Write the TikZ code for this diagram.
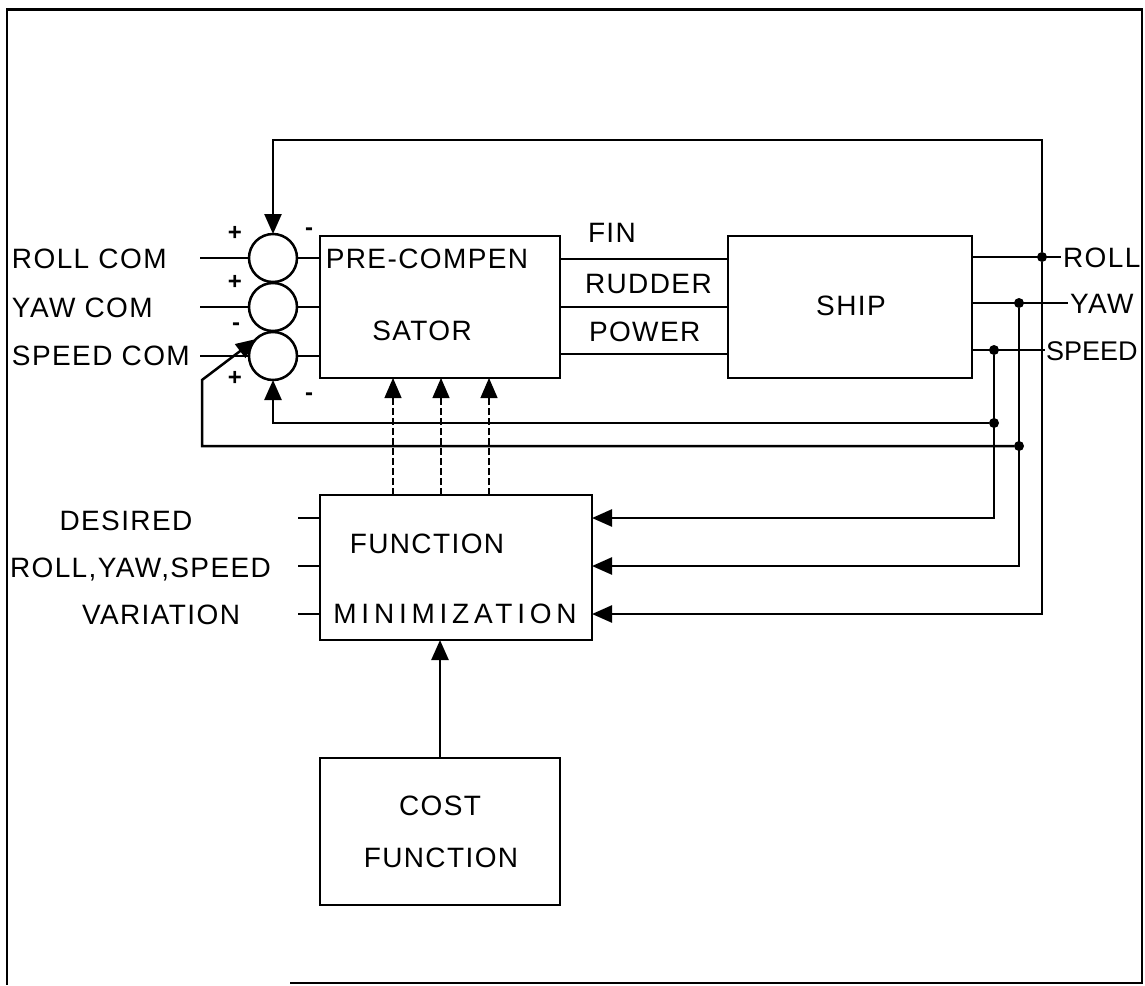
\documentclass[tikz,border=0pt]{standalone}
\usepackage{fontspec}
\setmainfont{Liberation Sans}[LetterSpace=5]
\usetikzlibrary{arrows.meta,calc}
\begin{document}
\begin{tikzpicture}[x=1pt,y=-1pt,
  every node/.style={inner sep=0pt, outer sep=0pt},
  txt/.style={font=\fontsize{28}{34}\selectfont, text height=20pt, text depth=0pt},
  blk/.style={draw, line width=2.5pt},
  sumj/.style={draw, circle, line width=2.5pt, minimum size=48pt},
  wire/.style={line width=2.5pt},
  arr/.style={wire, -{Triangle[length=20pt,width=17pt]}},
  darr/.style={line width=1.2pt, dash pattern=on 7pt off 3pt, -{Triangle[length=20pt,width=17pt]}},
  dot/.style={circle, fill, minimum size=10pt},
  sgn/.style={font=\fontsize{24}{24}\selectfont\bfseries}
]
\useasboundingbox (0,0) rectangle (1145,985);
% frame
\draw[line width=2pt] (290,983) -- (1142,983) -- (1142,9) -- (7,9) -- (7,985);
\draw[line width=3pt] (7,9) -- (1142,9);

% blocks
\node[blk, minimum width=240pt, minimum height=142pt] (pc) at (440,307) {};
\node[blk, minimum width=244pt, minimum height=142pt] (ship) at (850,307) {};
\node[blk, minimum width=272pt, minimum height=145pt] (fm) at (456,567.5) {};
\node[blk, minimum width=240pt, minimum height=147pt] (cf) at (440,831.5) {};

% block texts
\node[txt] (tpc1) at (427,258) {PRE-COMPEN};
\node[txt] (tpc2) at (422,330) {SATOR};
\node[txt] (tship) at (851,305) {SHIP};
\node[txt] (tfm1) at (427,543) {FUNCTION};
\node[txt, font=\fontsize{28}{34}\selectfont\addfontfeature{LetterSpace=17}] (tfm2) at (455,613) {MINIMIZATION};
\node[txt] (tcf1) at (440,805) {COST};
\node[txt] (tcf2) at (441,857) {FUNCTION};

% summing junctions
\node[sumj] (s1) at (273,258) {};
\node[sumj] (s2) at (273,307) {};
\node[sumj] (s3) at (273,356) {};

% signs
\node[sgn] (p1) at (235,233) {+};
\node[sgn] (m1) at (309,232) {-};
\node[sgn] (p2) at (235,282) {+};
\node[sgn] (m3) at (236,327) {-};
\node[sgn] (p3) at (235,378) {+};
\node[sgn] (m4) at (309,397) {-};

% command inputs
\node[txt, anchor=west] (trc) at (12,258) {ROLL COM};
\node[txt, anchor=west] (tyc) at (12,307) {YAW COM};
\node[txt, anchor=west] (tsc) at (12,355) {SPEED COM};
\coordinate (rc) at (200,258);
\coordinate (yc) at (200,307);
\coordinate (sc) at (200,356);
\draw[wire] (rc) -- (s1.west);
\draw[wire] (yc) -- (s2.west);
\draw[wire] (sc) -- (s3.west);

% junctions to pre-compensator
\draw[wire] (s1.east) -- (pc.west |- s1.east);
\draw[wire] (s2.east) -- (pc.west |- s2.east);
\draw[wire] (s3.east) -- (pc.west |- s3.east);

% pre-compensator to ship
\draw[wire] (pc.east |- 0,259) -- (ship.west |- 0,259);
\draw[wire] (pc.east |- s2) -- (ship.west |- s2);
\draw[wire] (pc.east |- 0,354) -- (ship.west |- 0,354);
\node[txt, anchor=west] (tfin) at (588,232) {FIN};
\node[txt, anchor=west] (trud) at (585,283) {RUDDER};
\node[txt, anchor=west] (tpow) at (589,331) {POWER};

% ship outputs
\node[dot] (rollj) at (1042,257) {};
\node[dot] (yawj) at (1019,303) {};
\node[dot] (speedj) at (994,350) {};
\coordinate (rollend) at (1061,257);
\coordinate (yawend) at (1068,303);
\coordinate (speedend) at (1045,350);
\draw[wire] (ship.east |- rollj) -- (rollend);
\draw[wire] (ship.east |- yawj) -- (yawend);
\draw[wire] (ship.east |- speedj) -- (speedend);
\node[txt, anchor=west] (troll) at (1063,257) {ROLL};
\node[txt, anchor=west] (tyaw) at (1070,303) {YAW};
\node[txt, anchor=west, font=\fontsize{27}{32}\selectfont\addfontfeature{LetterSpace=0}] (tspeed) at (1046,350) {SPEED};

% roll feedback
\coordinate (topR) at (1042,140);
\coordinate (r3) at (1042,614);
\draw[arr] (rollj) -- (topR) -| (s1.north);
\draw[arr] (rollj) -- (r3) -- (fm.east |- r3);

% speed feedback
\node[dot] (spfb) at (994,423) {};
\coordinate (sp1) at (994,518);
\draw[arr] (speedj) -- (sp1) -- (fm.east |- sp1);
\draw[arr] (spfb) -| (s3.south);

% yaw feedback
\node[dot] (ywfb) at (1019,446) {};
\coordinate (yw1) at (1019,566);
\coordinate (c2) at (202,380);
\draw[arr] (yawj) -- (yw1) -- (fm.east |- yw1);
\draw[arr] (ywfb) -| (c2) -- (s3.135);

% function minimization to pre-compensator (dashed)
\coordinate (d1) at (393,0);
\coordinate (d2) at (441,0);
\coordinate (d3) at (489,0);
\draw[darr] (fm.north -| d1) -- (pc.south -| d1);
\draw[darr] (fm.north -| d2) -- (pc.south -| d2);
\draw[darr] (fm.north -| d3) -- (pc.south -| d3);

% desired variation inputs
\node[txt] (tdes) at (126,520) {DESIRED};
\node[txt, anchor=west] (trys) at (10,567) {ROLL,YAW,SPEED};
\node[txt] (tvar) at (161,614) {VARIATION};
\coordinate (in1) at (298,518);
\coordinate (in2) at (298,566);
\coordinate (in3) at (298,614);
\draw[wire] (in1) -- (fm.west |- in1);
\draw[wire] (in2) -- (fm.west |- in2);
\draw[wire] (in3) -- (fm.west |- in3);

% cost function
\draw[arr] (cf.north) -- (cf.north |- fm.south);
\end{tikzpicture}
\end{document}
